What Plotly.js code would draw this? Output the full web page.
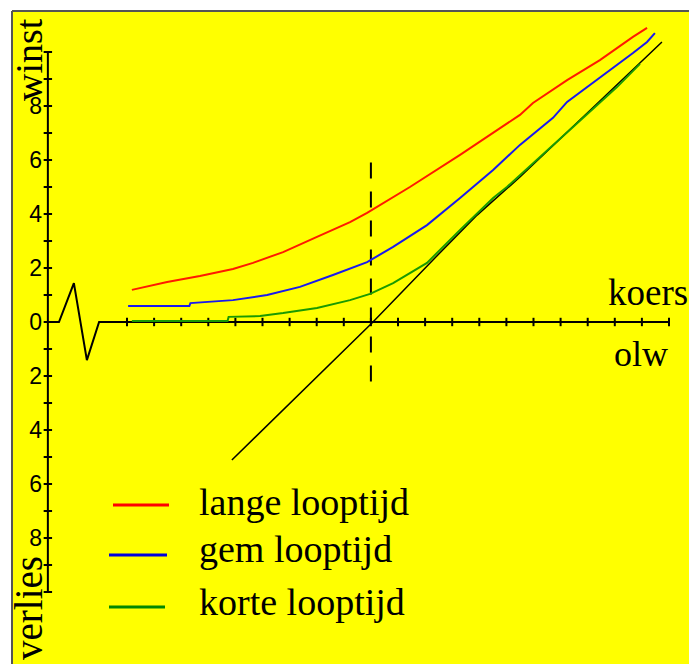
<!DOCTYPE html>
<html>
<head>
<meta charset="utf-8">
<script src="https://cdn.plot.ly/plotly-3.0.1.min.js"></script>
<style>html,body{margin:0;padding:0;background:#fff;}#chart{width:689px;height:664px;}</style>
</head>
<body>
<div id="chart"></div>
<script>
// ---- data ----
const seriesNames = ["lange looptijd", "gem looptijd", "korte looptijd"];
const seriesColors = ["#ff1a00", "#1a1aee", "#1a9a00"];
const legendColors = ["#ff0000", "#0000dd", "#008800"];

const langeX = [0.18, 1.48, 2.69, 3.91, 4.65, 5.76, 7.01, 8.23, 8.86, 9.04, 10.44, 12.29, 13.51, 14.50, 14.98, 16.24, 17.45, 18.67, 19.19];
const langeY = [1.19, 1.48, 1.70, 1.96, 2.19, 2.59, 3.15, 3.70, 4.04, 4.15, 5.00, 6.19, 7.00, 7.67, 8.11, 8.96, 9.70, 10.56, 10.89];

const gemX = [0.04, 2.30, 2.34, 3.91, 5.17, 6.38, 7.60, 8.86, 9.82, 11.07, 12.29, 13.51, 14.50, 15.72, 16.24, 17.45, 18.67, 19.19, 19.48];
const gemY = [0.59, 0.59, 0.70, 0.81, 1.00, 1.30, 1.74, 2.22, 2.78, 3.59, 4.59, 5.63, 6.56, 7.56, 8.15, 9.04, 9.96, 10.37, 10.70];

const korteX = [0.18, 3.71, 3.75, 4.91, 5.76, 7.01, 8.23, 8.97, 9.82, 11.07, 12.29, 13.51, 14.02, 16.83, 18.08, 18.93];
const korteY = [0.04, 0.04, 0.19, 0.22, 0.33, 0.52, 0.81, 1.04, 1.44, 2.19, 3.41, 4.59, 5.00, 7.56, 8.70, 9.56];

const olwX = [3.87, 9.04, 11.29, 12.92, 14.50, 19.74];
const olwY = [-5.11, -0.04, 2.30, 3.96, 5.37, 10.37];

const strikeX = [9, 9];
const strikeY = [-2.2, 6.3];

// axis: broken-axis zigzag followed by the koers axis
const axisX = [-2.92, -2.51, -1.96, -1.48, -1.03, 20];
const axisY = [0, 0, 1.44, -1.41, 0, 0];
const xTickVals = Array.from({length: 21}, (_, i) => i);
const yTickVals = Array.from({length: 21}, (_, i) => i - 10);
const yLabelVals = [-8, -6, -4, -2, 0, 2, 4, 6, 8];
const yLabelText = ["8", "6", "4", "2", "0", "2", "4", "6", "8"];
const yAxisX = -2.92;

// ---- layout helpers (pixel -> paper) ----
const W = 689, H = 664, ML = 12, MT = 11;
const PW = W - ML, PH = H - MT;
const px = p => (p - ML) / PW;
const py = p => 1 - (p - MT) / PH;

const serif = "Liberation Serif, Times New Roman, serif";
const sans = "Liberation Sans, Arial, sans-serif";

const traces = [
  {x: axisX, y: axisY, mode: "lines", line: {color: "#000", width: 2}},
  {x: [yAxisX, yAxisX], y: [yTickVals[0], yTickVals[yTickVals.length - 1]], mode: "lines", line: {color: "#000", width: 2}},
  {x: yTickVals.map(() => yAxisX), y: yTickVals, mode: "markers",
   marker: {symbol: "line-ew", size: 6, line: {color: "#000", width: 2}}},
  {x: xTickVals, y: xTickVals.map(() => 0), mode: "markers",
   marker: {symbol: "line-ns", size: 6, line: {color: "#000", width: 2}}},
  {x: strikeX, y: strikeY, mode: "lines", line: {color: "#000", width: 2, dash: "16px,13px"}},
  {x: olwX, y: olwY, mode: "lines", line: {color: "#000", width: 1.5}},
  {x: korteX, y: korteY, mode: "lines", line: {color: seriesColors[2], width: 2}},
  {x: gemX, y: gemY, mode: "lines", line: {color: seriesColors[1], width: 2}},
  {x: langeX, y: langeY, mode: "lines", line: {color: seriesColors[0], width: 2}}
];

const legendRows = [505, 555, 607];
const legendLineX = [[113, 169], [109, 167], [109, 165]];
const legendTextY = [502, 549, 602];

const shapes = [
  {type: "line", xref: "paper", yref: "paper", x0: 0, x1: 1, y0: 1, y1: 1, line: {color: "#555", width: 2}},
  {type: "line", xref: "paper", yref: "paper", x0: 0, x1: 0, y0: 0, y1: 1, line: {color: "#555", width: 2}}
];
seriesNames.forEach((n, i) => {
  shapes.push({type: "line", xref: "paper", yref: "paper",
    x0: px(legendLineX[i][0]), x1: px(legendLineX[i][1]), y0: py(legendRows[i]), y1: py(legendRows[i]),
    line: {color: legendColors[i], width: 3}});
});

const annotations = [
  {text: "winst", xref: "paper", yref: "paper", x: px(29), y: py(60), textangle: -90,
   showarrow: false, xanchor: "center", yanchor: "middle", font: {family: serif, size: 38, color: "#000"}},
  {text: "verlies", xref: "paper", yref: "paper", x: px(28), y: py(608), textangle: -90,
   showarrow: false, xanchor: "center", yanchor: "middle", font: {family: serif, size: 39, color: "#000"}},
  {text: "koers", xref: "paper", yref: "paper", x: px(648), y: py(293),
   showarrow: false, xanchor: "center", yanchor: "middle", font: {family: serif, size: 37, color: "#000"}},
  {text: "olw", xref: "paper", yref: "paper", x: px(641), y: py(354),
   showarrow: false, xanchor: "center", yanchor: "middle", font: {family: serif, size: 36, color: "#000"}}
];
seriesNames.forEach((n, i) => {
  annotations.push({text: n, xref: "paper", yref: "paper", x: px(197), y: py(legendTextY[i]),
    showarrow: false, xanchor: "left", yanchor: "middle", font: {family: serif, size: 38, color: "#000"}});
});

const layout = {
  width: W, height: H,
  margin: {l: ML, r: 0, t: MT, b: 0, pad: 0},
  paper_bgcolor: "#ffffff",
  plot_bgcolor: "#ffff00",
  showlegend: false,
  hovermode: false,
  xaxis: {range: [(12 - 127) / 27.1, (689 - 127) / 27.1], visible: false, fixedrange: true},
  yaxis: {range: [(322 - 664) / 27, (322 - 11) / 27], anchor: "free", position: px(48), side: "left",
    tickvals: yLabelVals, ticktext: yLabelText, ticks: "", showline: false, showgrid: false, zeroline: false,
    ticklabelstandoff: 6, automargin: false, fixedrange: true,
    tickfont: {family: sans, size: 23, color: "#000"}},
  shapes: shapes,
  annotations: annotations
};

Plotly.newPlot("chart", traces, layout, {displayModeBar: false, staticPlot: true});
</script>
</body>
</html>
